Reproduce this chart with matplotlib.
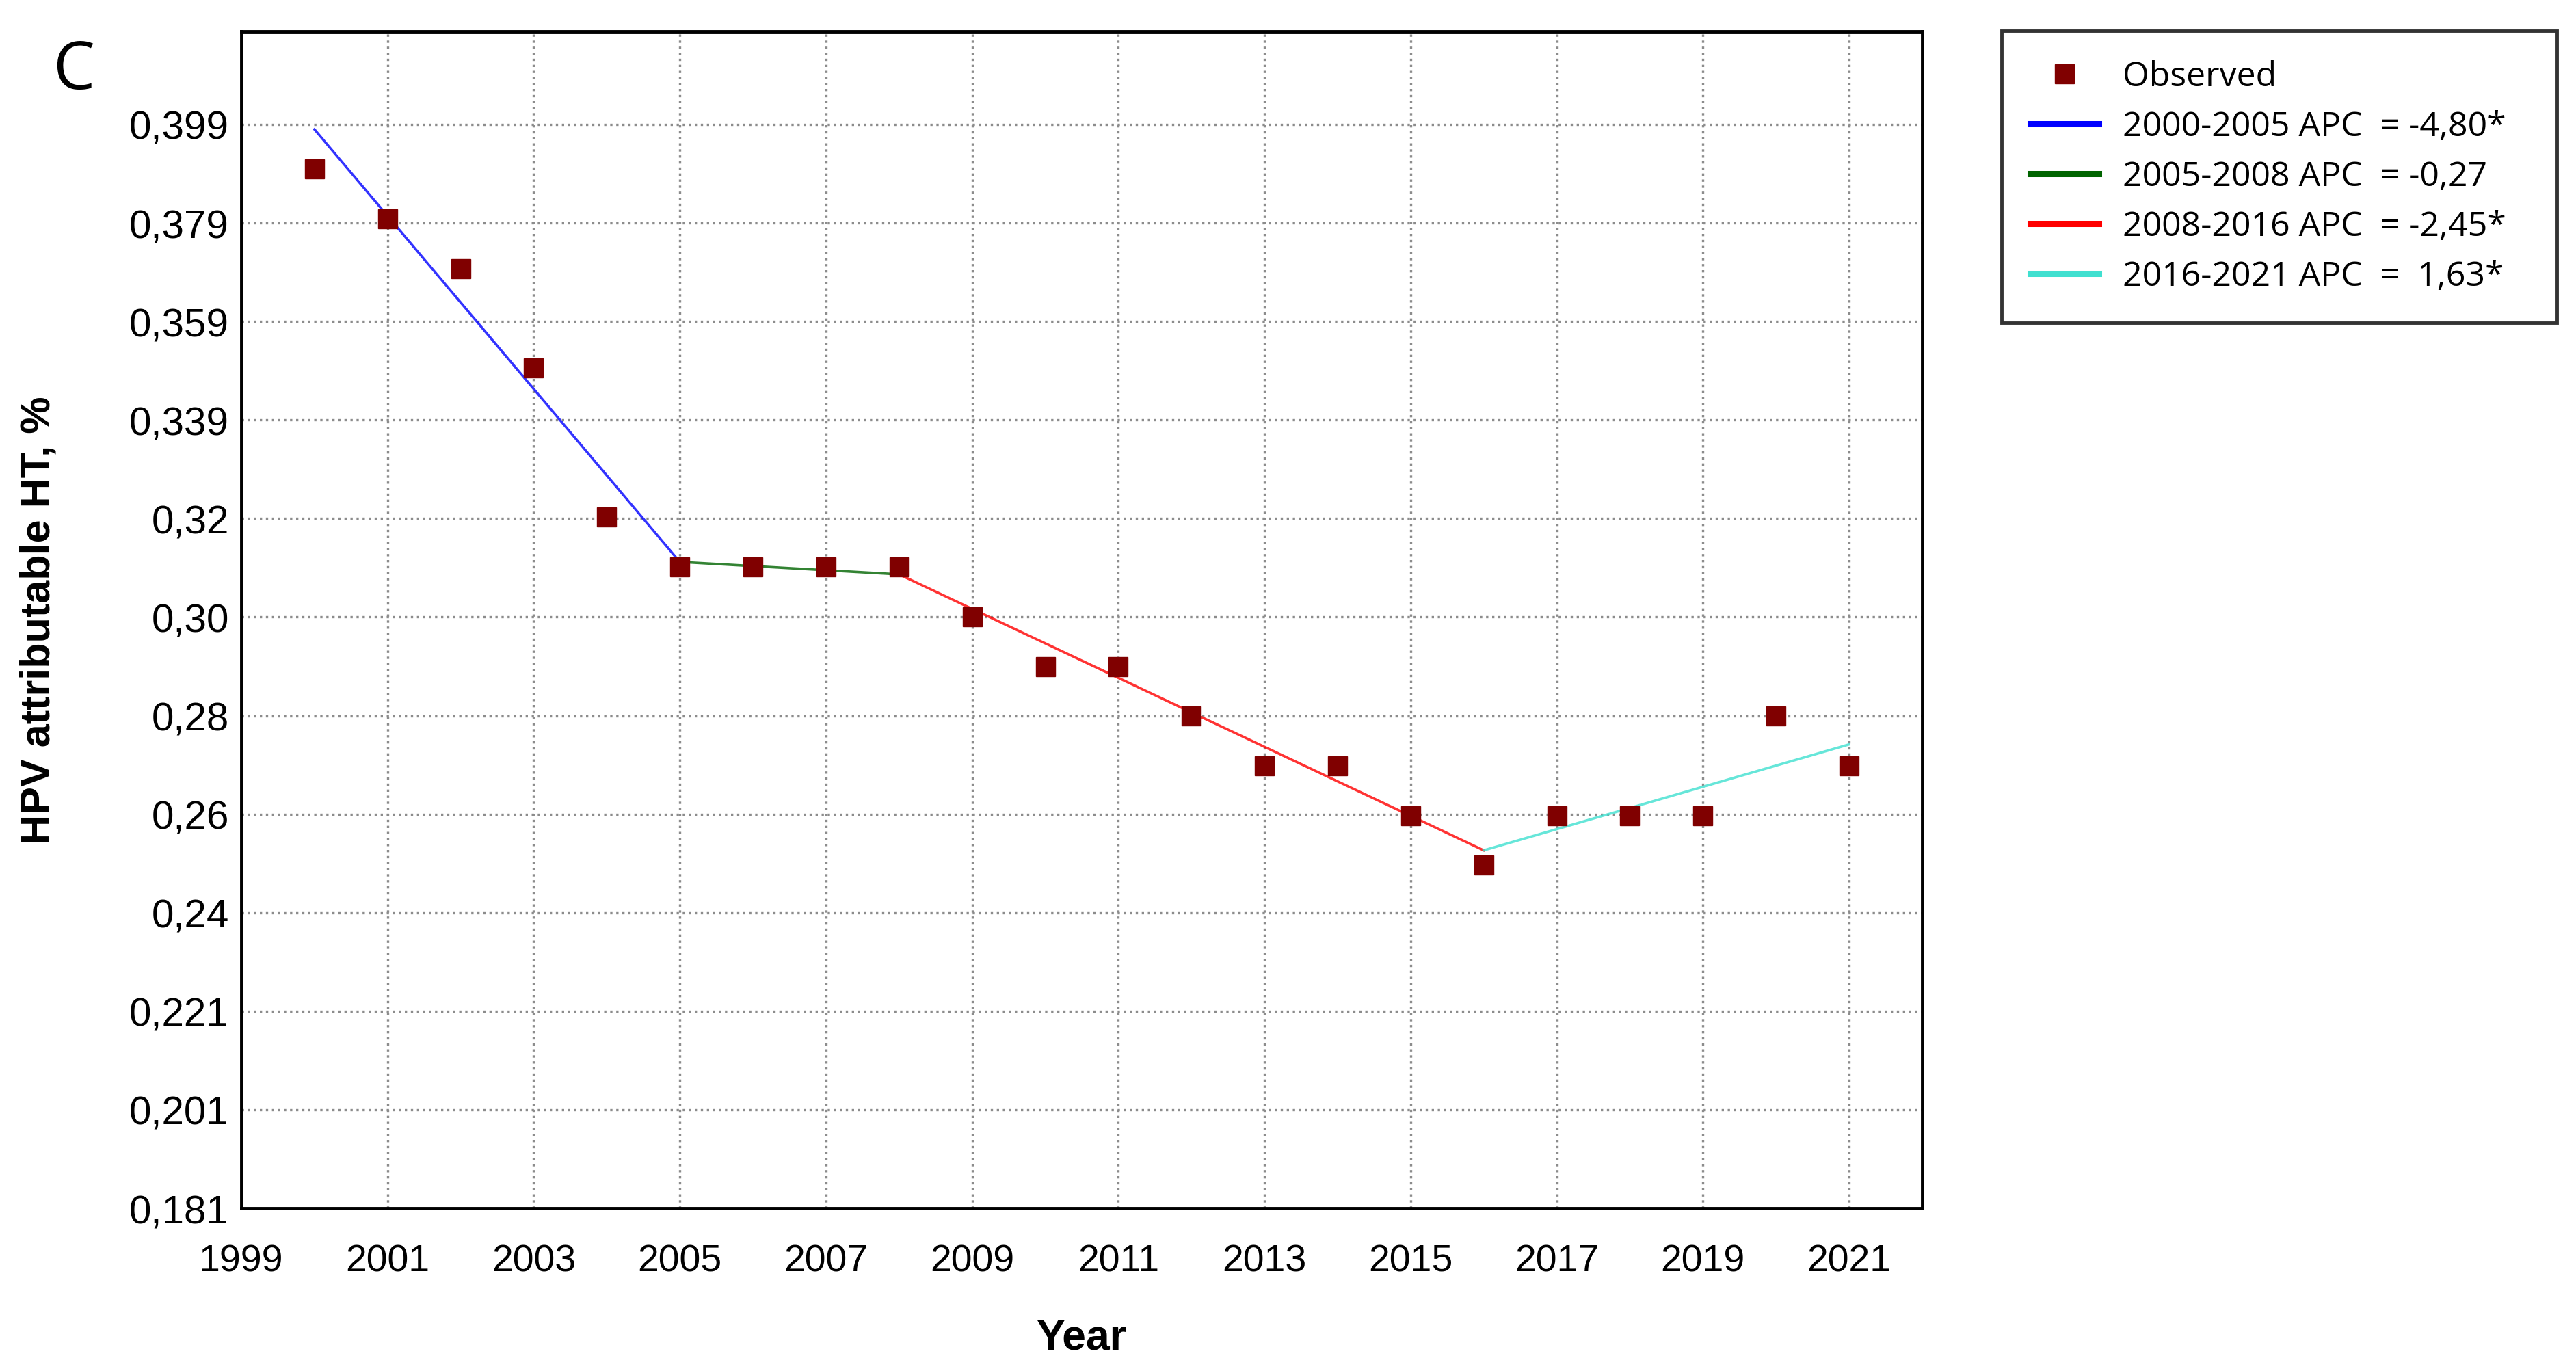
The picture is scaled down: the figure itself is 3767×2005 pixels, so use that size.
import numpy as np
import matplotlib
import matplotlib.pyplot as plt
from matplotlib.lines import Line2D

matplotlib.use('Agg')

years = list(range(2000, 2022))
observed = [0.39, 0.38, 0.37, 0.35, 0.32, 0.31, 0.31, 0.31, 0.31, 0.30, 0.29,
            0.29, 0.28, 0.27, 0.27, 0.26, 0.25, 0.26, 0.26, 0.26, 0.28, 0.27]

seg_years = [(2000, 2005), (2005, 2008), (2008, 2016), (2016, 2021)]
seg_fit = [(0.398, 0.311), (0.311, 0.3085), (0.3085, 0.253), (0.253, 0.2743)]
seg_labels = ["2000-2005 APC  = -4,80*", "2005-2008 APC  = -0,27",
              "2008-2016 APC  = -2,45*", "2016-2021 APC  =  1,63*"]
seg_colors = ['#0000ff', '#006400', '#ff0000', '#40e0d0']

x_ticks = list(range(1999, 2022, 2))
y_tick_labels = ["0,181", "0,201", "0,221", "0,24", "0,26", "0,28", "0,30",
                 "0,32", "0,339", "0,359", "0,379", "0,399"]

tick_font = 'Liberation Sans'
legend_font = ['Open Sans', 'DejaVu Sans']

fig = plt.figure(figsize=(37.67, 20.06), dpi=100)
ax = fig.add_axes([0.0937, 0.1186, 0.6525, 0.858])

y_ticks = np.linspace(0.181, 0.399, len(y_tick_labels))

for (x0, x1), (f0, f1), c in zip(seg_years, seg_fit, seg_colors):
    ax.plot([x0, x1], [f0, f1], color=c, lw=2.6, zorder=3, alpha=0.8)
ax.plot(years, observed, ls='none', marker='s', ms=19.5, color='#800000', zorder=4)

ax.set_xlim(1999, 2022)
ax.set_ylim(0.181, 0.4177)
ax.set_xticks(x_ticks)
ax.set_xticklabels([str(y) for y in x_ticks], fontsize=40, family=tick_font)
ax.set_yticks(y_ticks)
ax.set_yticklabels(y_tick_labels, fontsize=42, family=tick_font)
ax.tick_params(axis='both', length=0)
ax.tick_params(axis='x', pad=37)
ax.tick_params(axis='y', pad=13)
ax.grid(True, ls=':', color='#8c8c8c', lw=2.4)
for s in ax.spines.values():
    s.set_linewidth(3.5)
    s.set_color('black')

ax.set_xlabel("Year", fontsize=45, fontweight='bold', family='Liberation Sans')
ax.xaxis.set_label_coords(0.5, -0.0924)
ax.set_ylabel("HPV attributable HT, %", fontsize=44, fontweight='bold', family='Liberation Sans')
ax.yaxis.set_label_coords(-0.109, 0.5)

fig.text(0.0287, 0.948, "C", fontsize=70, family=legend_font, ha='center', va='center')

handles = [Line2D([], [], ls='none', marker='s', ms=19.5, color='#800000')]
handles += [Line2D([], [], color=c, lw=6.5) for c in seg_colors]
labels = ["Observed"] + seg_labels
leg = fig.legend(handles, labels, loc='upper left', bbox_to_anchor=(0.777, 0.977, 0.2156, 0),
                 bbox_transform=fig.transFigure, borderaxespad=0, mode='expand',
                 frameon=True, fancybox=False, edgecolor='black', handlelength=2.0,
                 handletextpad=0.7, labelspacing=0.47, borderpad=0.85,
                 prop={'family': legend_font, 'size': 36})
leg.get_frame().set_linewidth(3.5)

fig.savefig('out.png', dpi=100)
